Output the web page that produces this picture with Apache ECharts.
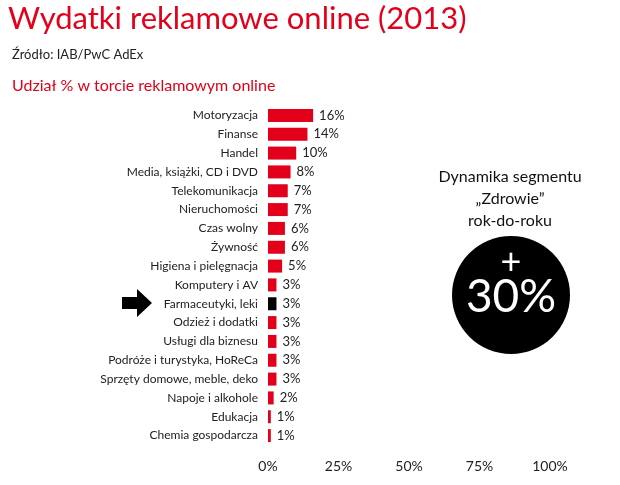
<!DOCTYPE html>
<html><head><meta charset="utf-8">
<script src="https://cdn.jsdelivr.net/npm/echarts@6/dist/echarts.min.js"></script>
<style>html,body{margin:0;padding:0;background:#fff}#c{width:620px;height:485px}</style>
</head><body><div id="c"></div>
<script>
const categories = ["Motoryzacja","Finanse","Handel","Media, książki, CD i DVD","Telekomunikacja","Nieruchomości","Czas wolny","Żywność","Higiena i pielęgnacja","Komputery i AV","Farmaceutyki, leki","Odzież i dodatki","Usługi dla biznesu","Podróże i turystyka, HoReCa","Sprzęty domowe, meble, deko","Napoje i alkohole","Edukacja","Chemia gospodarcza"];
const values = [16,14,10,8,7,7,6,6,5,3,3,3,3,3,3,2,1,1];
const highlight = "Farmaceutyki, leki";
const xTicks = [0,25,50,75,100];
const RED = "#e2001a";
const F = "Lato, 'Open Sans', sans-serif";
const chart = echarts.init(document.getElementById('c'));
chart.setOption({
  animation:false,
  textStyle:{fontFamily:F},
  grid:{left:268,right:70,top:106,bottom:40,containLabel:false},
  xAxis:{type:'value',min:0,max:100,interval:25,
    axisLine:{show:false},axisTick:{show:false},splitLine:{show:false},
    axisLabel:{formatter:v=>v+'%',color:'#222',fontSize:14,margin:14,fontFamily:F}},
  yAxis:{type:'category',data:categories,inverse:true,
    axisLine:{show:false},axisTick:{show:false},
    axisLabel:{color:'#222',fontSize:12,margin:10,fontFamily:F}},
  series:[{type:'bar',barWidth:13,
    data:values.map((v,i)=>({value:v,itemStyle:{color:categories[i]===highlight?'#000':RED}})),
    label:{show:true,position:'right',formatter:'{c}%',color:'#222',fontSize:13,distance:6,fontFamily:F}}],
  graphic:[
    {type:'text',left:8,top:3,style:{text:'Wydatki reklamowe online (2013)',fill:RED,font:'31px '+F}},
    {type:'text',left:12,top:48,style:{text:'Źródło: IAB/PwC AdEx',fill:'#222',font:'13px '+F}},
    {type:'text',left:12,top:78,style:{text:'Udział % w torcie reklamowym online',fill:RED,font:'16px '+F}},
    {type:'text',x:510,y:166,style:{text:'Dynamika segmentu\n„Zdrowie”\nrok-do-roku',fill:'#111',font:'16px '+F,align:'center',lineHeight:22}},
    {type:'circle',shape:{cx:511,cy:295,r:59},style:{fill:'#000'}},
    {type:'text',x:511,y:244,style:{text:'+',fill:'#fff',font:'36px '+F,align:'center'}},
    {type:'text',x:511,y:274,style:{text:'30%',fill:'#fff',font:'46px '+F,align:'center'}},
    {type:'polygon',shape:{points:[[122,297],[137,297],[137,289],[152,303],[137,317],[137,309],[122,309]]},style:{fill:'#000'}}
  ]
});
</script></body></html>
